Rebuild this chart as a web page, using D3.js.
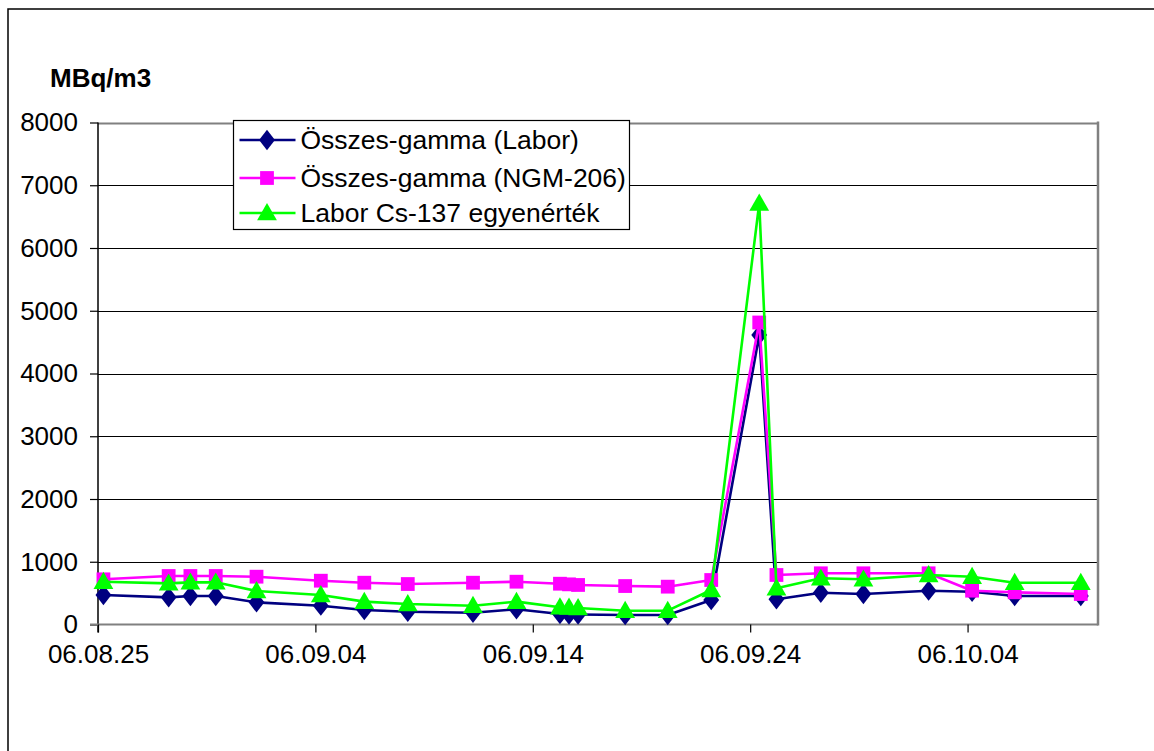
<!DOCTYPE html>
<html>
<head>
<meta charset="utf-8">
<script src="https://cdn.jsdelivr.net/npm/d3@7"></script>
<style>
  html, body { margin: 0; padding: 0; background: #fff; }
  svg { display: block; font-family: "Liberation Sans", Arial, sans-serif; }
</style>
</head>
<body>
<svg id="chart" width="1154" height="751"></svg>
<script>
// Sampling times (yyyy-mm-dd HH:MM)
const times = [
  "2006-08-25 06:00", "2006-08-28 06:00", "2006-08-29 06:00", "2006-08-30 10:00",
  "2006-09-01 07:00", "2006-09-04 06:00", "2006-09-06 06:00", "2006-09-08 06:00",
  "2006-09-11 06:00", "2006-09-13 06:00", "2006-09-15 06:00", "2006-09-15 16:00",
  "2006-09-16 02:00", "2006-09-18 06:00", "2006-09-20 05:00", "2006-09-22 05:00",
  "2006-09-24 10:00", "2006-09-25 05:00", "2006-09-27 06:00", "2006-09-29 05:00",
  "2006-10-02 05:00", "2006-10-04 05:00", "2006-10-06 04:00", "2006-10-09 05:00"
];

// Összes-gamma (Labor), MBq/m3
const laborGamma = [
  470, 433, 454, 454, 353, 300, 231, 204,
  188, 242, 167, 160, 160, 151, 151, 390,
  4614, 402, 507, 486, 539, 523, 454, 454
];

// Összes-gamma (NGM-206), MBq/m3
const ngmGamma = [
  720, 773, 773, 773, 762, 698, 666, 645,
  666, 682, 650, 640, 630, 613, 603, 709,
  4813, 789, 816, 816, 816, 539, 513, 486
];

// Labor Cs-137 egyenérték, MBq/m3
const csEquivalent = [
  682, 656, 672, 672, 534, 470, 364, 327,
  300, 364, 275, 270, 262, 220, 220, 550,
  6710, 577, 736, 720, 789, 762, 666, 666
];

const seriesNames = ["Összes-gamma (Labor)", "Összes-gamma (NGM-206)", "Labor Cs-137 egyenérték"];
const seriesColors = ["#000080", "#ff00ff", "#00ff00"];
const seriesSymbols = [d3.symbolDiamond, d3.symbolSquare, d3.symbolTriangle];
const seriesSymbolSizes = [120, 190, 170];

const xDomain = ["2006-08-25 00:00", "2006-10-10 00:00"];
const xTicks = ["2006-08-25 00:00", "2006-09-04 00:00", "2006-09-14 00:00", "2006-09-24 00:00", "2006-10-04 00:00"];
const yTicks = [0, 1000, 2000, 3000, 4000, 5000, 6000, 7000, 8000];
const yLabel = "MBq/m3";

const parse = d3.timeParse("%Y-%m-%d %H:%M");
const fmt = d3.timeFormat("%y.%m.%d");

const svg = d3.select("#chart");
const plot = { left: 98, top: 122.5, right: 1098, bottom: 624.5 };

const x = d3.scaleTime().domain(xDomain.map(parse)).range([plot.left, plot.right]);
const y = d3.scaleLinear().domain([0, 8000]).range([plot.bottom, plot.top]);

// Outer chart frame
svg.append("rect")
  .attr("x", 8).attr("y", 9).attr("width", 1160).attr("height", 760)
  .attr("fill", "#fff").attr("stroke", "#000").attr("stroke-width", 1.5);

// Horizontal gridlines
svg.append("g")
  .selectAll("line")
  .data(yTicks.filter(v => v > 0))
  .join("line")
  .attr("x1", plot.left).attr("x2", plot.right)
  .attr("y1", d => Math.round(y(d)) + 0.5).attr("y2", d => Math.round(y(d)) + 0.5)
  .attr("stroke", d => d === 8000 ? "#808080" : "#000")
  .attr("stroke-width", d => d === 8000 ? 2 : 1);

// Plot area right edge
svg.append("line")
  .attr("x1", plot.right).attr("x2", plot.right)
  .attr("y1", plot.top - 1).attr("y2", plot.bottom + 1)
  .attr("stroke", "#808080").attr("stroke-width", 2.5);

// Y axis
const yAxis = d3.axisLeft(y).tickValues(yTicks).tickSize(8).tickPadding(12).tickFormat(d3.format("d"));
const gy = svg.append("g").attr("transform", `translate(${plot.left},0)`).call(yAxis);
gy.select(".domain").attr("d", `M0,${plot.top}V${plot.bottom + 8}`).attr("stroke", "#000").attr("stroke-width", 1.5);
gy.selectAll(".tick line").attr("stroke", "#000").attr("stroke-width", 1.2);
gy.selectAll(".tick text").attr("font-size", 26).attr("fill", "#000")
  .attr("font-family", "'Liberation Sans', Arial, sans-serif");

// X axis
const xAxis = d3.axisBottom(x).tickValues(xTicks.map(parse)).tickSize(8).tickPadding(12).tickFormat(fmt);
const gx = svg.append("g").attr("transform", `translate(0,${plot.bottom})`).call(xAxis);
gx.select(".domain").attr("d", `M${plot.left - 8},0H${plot.right}`).attr("stroke", "#808080").attr("stroke-width", 2);
gx.selectAll(".tick line").attr("stroke", "#000").attr("stroke-width", 1.2);
gx.selectAll(".tick text").attr("font-size", 26).attr("fill", "#000")
  .attr("font-family", "'Liberation Sans', Arial, sans-serif");

// Unit label
svg.append("text")
  .attr("x", 50).attr("y", 87)
  .attr("font-size", 26).attr("font-weight", "bold")
  .text(yLabel);

// Series
const allSeries = [laborGamma, ngmGamma, csEquivalent].map((vals, i) => ({
  name: seriesNames[i],
  color: seriesColors[i],
  symbol: seriesSymbols[i],
  size: seriesSymbolSizes[i],
  points: vals.map((v, j) => ({ t: parse(times[j]), v }))
}));

const line = d3.line().x(d => x(d.t)).y(d => y(d.v));

allSeries.forEach(s => {
  const g = svg.append("g");
  g.append("path")
    .attr("d", line(s.points))
    .attr("fill", "none").attr("stroke", s.color).attr("stroke-width", 2.6)
    .attr("stroke-linejoin", "round");
  g.selectAll("path.marker")
    .data(s.points)
    .join("path")
    .attr("class", "marker")
    .attr("transform", d => {
      const dy = s.symbol === d3.symbolTriangle ? 1.5 : 0;
      const sc = s.symbol === d3.symbolDiamond ? "scale(1.35,1)" : "";
      return `translate(${x(d.t)},${y(d.v) + dy}) ${sc}`;
    })
    .attr("d", d3.symbol().type(s.symbol).size(s.size))
    .attr("fill", s.color);
});

// Legend
const legend = svg.append("g").attr("transform", "translate(233.5,120.5)");
legend.append("rect")
  .attr("width", 396).attr("height", 109)
  .attr("fill", "#fff").attr("stroke", "#000").attr("stroke-width", 1.2);
const rowY = [19.5, 57.5, 92.5];
allSeries.forEach((s, i) => {
  const r = legend.append("g").attr("transform", `translate(0,${rowY[i]})`);
  r.append("line").attr("x1", 6).attr("x2", 62).attr("stroke", s.color).attr("stroke-width", 2.6);
  const dy = s.symbol === d3.symbolTriangle ? 1.5 : 0;
  const sc = s.symbol === d3.symbolDiamond ? "scale(1.35,1)" : "";
  r.append("path")
    .attr("transform", `translate(33.5,${dy}) ${sc}`)
    .attr("d", d3.symbol().type(s.symbol).size(s.size))
    .attr("fill", s.color);
  r.append("text")
    .attr("x", 67).attr("dy", "0.35em")
    .attr("font-size", 26.5).attr("fill", "#000")
    .text(s.name);
});
</script>
</body>
</html>
